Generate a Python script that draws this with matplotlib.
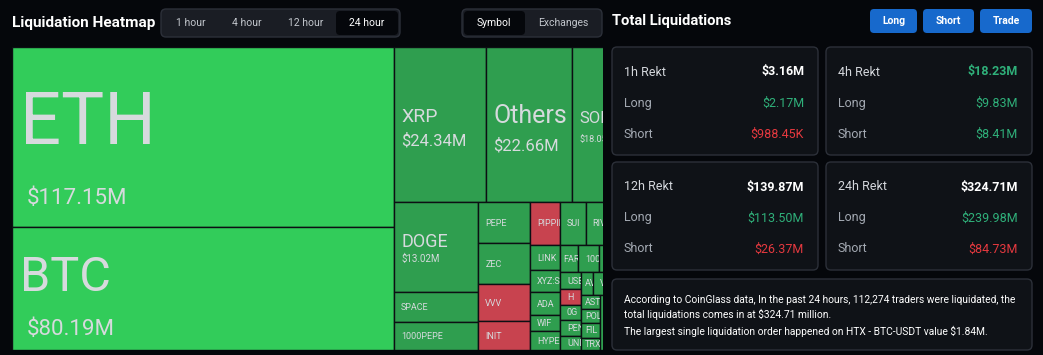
import matplotlib
matplotlib.use("Agg")
import matplotlib.pyplot as plt
from matplotlib.patches import Rectangle, FancyBboxPatch
from matplotlib.transforms import Bbox

# ---------------- data ----------------
big_names = ["ETH", "BTC"]
big_vals = [117.15, 80.19]
top_names = ["XRP", "Others", "SOL"]
top_vals = [24.34, 22.66, 18.05]
col1_names = ["DOGE", "SPACE", "1000PEPE"]
col1_vals = [13.02, 4.31, 3.98]
col2_names = ["PEPE", "ZEC", "VVV", "INIT"]
col2_vals = [3.65, 3.57, 3.25, 2.54]
rowa_names = ["PIPPIN", "SUI", "RIVER"]
rowa_vals = [2.21, 1.89, 4.05]
d1_names = ["LINK", "XYZ:SPX", "ADA", "WIF", "HYPE"]
d1_vals = [1.30, 1.13, 1.16, 0.84, 0.97]
e1_names = ["FARTCOIN", "1000BONK", "VIRTUAL"]
e1_vals = [0.83, 0.98, 1.92]
f1_names = ["USELESS", "H", "0G", "PENGU", "UNI"]
f1_vals = [0.63, 0.56, 0.56, 0.59, 0.52]
g1_names = ["AVAX", "VINE"]
g1_vals = [0.43, 1.86]
g2a_names = ["ASTER", "POL", "FIL", "TRX"]
g2a_vals = [0.455, 0.455, 0.49, 0.39]
g2b_names = ["ENA"]
g2b_vals = [3.78]
red_names = ["PIPPIN", "VVV", "INIT", "H"]

time_labels = ["1 hour", "4 hour", "12 hour", "24 hour"]
view_labels = ["Symbol", "Exchanges"]
button_labels = ["Long", "Short", "Trade"]
periods = ["1h Rekt", "4h Rekt", "12h Rekt", "24h Rekt"]
total_vals = ["$3.16M", "$18.23M", "$139.87M", "$324.71M"]
long_vals = ["$2.17M", "$9.83M", "$113.50M", "$239.98M"]
short_vals = ["$988.45K", "$8.41M", "$26.37M", "$84.73M"]
info_lines = [
    "According to CoinGlass data, In the past 24 hours, 112,274 traders were liquidated, the",
    "total liquidations comes in at $324.71 million.",
    "The largest single liquidation order happened on HTX - BTC-USDT value $1.84M.",
]

# ---------------- style ----------------
BG = "#05070b"
PANEL = "#0f1217"
PANEL_EDGE = "#2c3039"
BRIGHT = "#32cc5a"
GREEN = "#2f9e4f"
RED = "#c8434f"
LBL = "#d6dadd"
POS = "#2fb07a"
NEG = "#e5393f"
BLUE = "#1769cc"
FONT = "Roboto"
plt.rcParams["font.family"] = [FONT, "DejaVu Sans"]

W, H = 1043, 355
fig = plt.figure(figsize=(W / 100, H / 100), dpi=100, facecolor=BG)
ui = fig.add_axes([0, 0, 1, 1])
ui.set_xlim(0, W)
ui.set_ylim(H, 0)
ui.axis("off")


def rbox(x, y, w, h, fc, ec="none", r=5, lw=1.0):
    ui.add_patch(FancyBboxPatch((x, y), w, h, boxstyle=f"round,pad=0,rounding_size={r}",
                                fc=fc, ec=ec, lw=lw))


# ---------- left header ----------
ui.text(12, 23, "Liquidation Heatmap", fontsize=11, weight="bold", color="white", va="center")
rbox(161, 9, 239, 28, "#1a1d24", PANEL_EDGE)
rbox(336, 11, 62, 24, BG, r=4)
for lab, cx in zip(time_labels, [191, 247, 306, 367]):
    ui.text(cx, 23, lab, fontsize=7.5, color="white" if lab == "24 hour" else "#c3c7cd",
            ha="center", va="center")
rbox(462, 9, 140, 28, "#1a1d24", PANEL_EDGE)
rbox(464, 11, 61, 24, BG, r=4)
for lab, cx in zip(view_labels, [494, 563]):
    ui.text(cx, 23, lab, fontsize=7.5, color="white" if lab == "Symbol" else "#c3c7cd",
            ha="center", va="center")

# ---------- right header ----------
ui.text(612, 21, "Total Liquidations", fontsize=10.6, weight="bold", color="white", va="center")
for lab, (bx, bw) in zip(button_labels, [(870, 47), (923, 51), (980, 52)]):
    rbox(bx, 9, bw, 24, BLUE, r=4)
    ui.text(bx + bw / 2, 21, lab, fontsize=7.5, weight="bold", color="white",
            ha="center", va="center")

# ---------- cards ----------
card_pos = [(612, 47), (826, 47), (612, 162), (826, 162)]
total_cols = ["white", POS, "white", "white"]
short_cols = [NEG, POS, NEG, NEG]
for i, (cx, cy) in enumerate(card_pos):
    cw, ch = 206, 108
    rbox(cx, cy, cw, ch, PANEL, PANEL_EDGE, r=5)
    rows = [(periods[i], total_vals[i], total_cols[i], "#d4d7dc", "bold"),
            ("Long", long_vals[i], POS, "#a3a9b2", "normal"),
            ("Short", short_vals[i], short_cols[i], "#a3a9b2", "normal")]
    for j, (lab, val, vc, lc, vw) in enumerate(rows):
        yy = cy + 25 + j * 31
        ui.text(cx + 12, yy, lab, fontsize=9, color=lc, va="center")
        ui.text(cx + cw - 14, yy, val, fontsize=9, color=vc, va="center", ha="right",
                weight=vw)

rbox(612, 279, 420, 71, PANEL, PANEL_EDGE, r=5)
for lab, yy in zip(info_lines, [300, 314.5, 331]):
    ui.text(624, yy, lab, fontsize=7.35, color="white", va="center")

# ---------- treemap ----------
TM_L, TM_R, TM_T, TM_B = 12, 603, 47.3, 350
TM_FULL_W = 628.6
TM_H = TM_B - TM_T
VIS_W = TM_R - TM_L
tm = fig.add_axes([TM_L / W, (H - TM_B) / H, VIS_W / W, TM_H / H])
tm.set_xlim(0, VIS_W)
tm.set_ylim(TM_H, 0)
tm.axis("off")


def split(rect, vals, vertical):
    x, y, w, h = rect
    tot = sum(vals)
    out, pos = [], 0.0
    for v in vals:
        f = v / tot
        out.append((x, y + pos * h, w, f * h) if vertical else (x + pos * w, y, f * w, h))
        pos += f
    return out


S = sum
root = (0, 0, TM_FULL_W, TM_H)
S_g2 = S(g2a_vals) + S(g2b_vals)
S_f2 = S(g1_vals) + S_g2
S_e2 = S(f1_vals) + S_f2
S_d2 = S(e1_vals) + S_e2
S_d = S(d1_vals) + S_d2
S_c3 = S(rowa_vals) + S_d
S_b2 = S(col1_vals) + S(col2_vals) + S_c3
S_b = S(top_vals) + S_b2

A, B = split(root, [S(big_vals), S_b], False)
B1, B2 = split(B, [S(top_vals), S_b2], True)
C1, C2, C3 = split(B2, [S(col1_vals), S(col2_vals), S_c3], False)
RA, D = split(C3, [S(rowa_vals), S_d], True)
D1, D2 = split(D, [S(d1_vals), S_d2], False)
E1, E2 = split(D2, [S(e1_vals), S_e2], True)
F1, F2 = split(E2, [S(f1_vals), S_f2], False)
G1, G2 = split(F2, [S(g1_vals), S_g2], True)
G2a, G2b = split(G2, [S(g2a_vals), S(g2b_vals)], False)

groups = [
    (A, big_names, big_vals, True), (B1, top_names, top_vals, False),
    (C1, col1_names, col1_vals, True), (C2, col2_names, col2_vals, True),
    (RA, rowa_names, rowa_vals, False), (D1, d1_names, d1_vals, True),
    (E1, e1_names, e1_vals, False), (F1, f1_names, f1_vals, True),
    (G1, g1_names, g1_vals, False), (G2a, g2a_names, g2a_vals, True),
    (G2b, g2b_names, g2b_vals, True),
]

# label styles for the large cells: name size, value size, name dy, value dy, name dx, value dx
big_style = {
    "ETH": (52, 16, -13, 61, 8, 15),
    "BTC": (35, 16, -10, 41, 8, 15),
    "XRP": (14, 12, -7.5, 16.5, 7, 7),
    "Others": (18, 12, -9, 21.5, 7, 7),
    "SOL": (12, 6.5, -6, 15, 7, 7),
    "DOGE": (13, 7, -5.5, 12, 7, 7),
}


def cell_clip(x, y, w, h):
    x2 = min(x + w, VIS_W)
    pts = tm.transData.transform([[x, y], [x2, y + h]])
    return Bbox.from_extents(min(pts[0][0], pts[1][0]), min(pts[0][1], pts[1][1]),
                             max(pts[0][0], pts[1][0]), max(pts[0][1], pts[1][1]))


for rect, names, vals, vert in groups:
    for (x, y, w, h), nm, v in zip(split(rect, vals, vert), names, vals):
        if nm in big_names:
            fc = BRIGHT
        elif nm in red_names:
            fc = RED
        else:
            fc = GREEN
        p = Rectangle((x, y), w, h, fc=fc, ec="#0c0f13", lw=1.0)
        tm.add_patch(p)
        cy = y + h / 2
        if nm in big_style:
            ns, vs, ndy, vdy, ndx, vdx = big_style[nm]
            t1 = tm.text(x + ndx, cy + ndy, nm, fontsize=ns, color=LBL, va="center", clip_on=True)
            t2 = tm.text(x + vdx, cy + vdy, f"${v:.2f}M", fontsize=vs, color=LBL,
                         va="center", clip_on=True)
            ts = [t1, t2]
        else:
            pad = 7 if w > 20 else 3.5
            ts = [tm.text(x + pad, cy + 0.5, nm, fontsize=6.5, color=LBL, va="center",
                          clip_on=True)]
        cb = cell_clip(x, y, w, h)
        for t in ts:
            t.set_clip_path(None)
            t.set_clip_box(cb)

fig.savefig("out.png", dpi=100, facecolor=BG)
